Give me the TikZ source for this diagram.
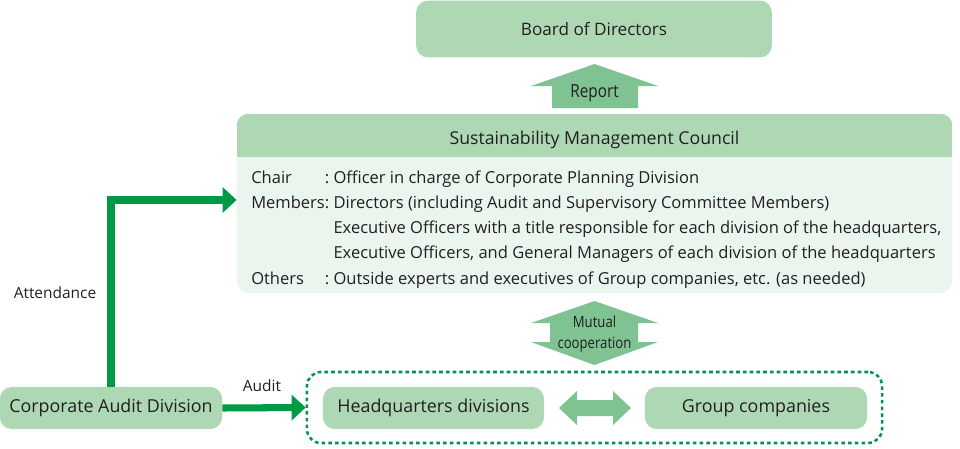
\documentclass[tikz,border=0pt]{standalone}
\usepackage{fontspec}
\setmainfont{Open Sans}
\newfontfamily\narrowfont{Open Sans}[FakeStretch=0.85]
\usepackage{xcolor}
\usetikzlibrary{arrows.meta, calc, positioning}

\definecolor{boxgreen}{RGB}{174,216,180}
\definecolor{arrowgreen}{RGB}{126,195,145}
\definecolor{palegreen}{RGB}{234,245,238}
\definecolor{linegreen}{RGB}{0,154,68}
\definecolor{dashgreen}{RGB}{0,148,80}
\definecolor{ink}{RGB}{35,31,32}

\newcommand\boxfont{\fontsize{12.6}{15}\selectfont}
\newcommand\bodyfont{\fontsize{11.75}{18}\selectfont}
\newcommand\labelfont{\fontsize{11}{15}\selectfont}

\begin{document}
\begin{tikzpicture}[x=0.025cm, y=-0.025cm,
    box/.style={rectangle, rounded corners=8.5pt, fill=boxgreen, text=ink, font=\boxfont, inner sep=0pt},
    flow/.style={draw=linegreen, line width=5pt, -{Triangle[length=10pt, width=17.8pt]}},
    blockarrow/.style={fill=arrowgreen},
    lbl/.style={text=ink, font=\labelfont, inner sep=0pt}]
    \useasboundingbox (0,0) rectangle (960,448);

    \node[box, minimum width=253pt, minimum height=40.5pt, font=\fontsize{12.2}{15}\selectfont] (board) at (594,29) {Board of Directors};
    \node[box, fill=palegreen, minimum width=508.6pt, minimum height=127.3pt] (council) at (594.5,203.5) {};
    \begin{scope}
        \clip[rounded corners=8.5pt] (council.south west) rectangle (council.north east);
        \fill[boxgreen] (council.north west) rectangle ($(council.north east)+(0,43)$);
    \end{scope}
    \node[lbl, font=\boxfont] (title) at (594.5,139.5) {Sustainability Management Council};
    \node[lbl, font=\bodyfont, anchor=north west] (members) at (251,165) {%
        \begin{tabular}{@{}l@{}l@{\ }l@{}}
            Chair & : & Officer in charge of Corporate Planning Division\\
            Members & : & Directors (including Audit and Supervisory Committee Members)\\
            & & Executive Officers with a title responsible for each division of the headquarters,\\
            & & Executive Officers, and General Managers of each division of the headquarters\\
            Others & : & Outside experts and executives of Group companies, etc. (as needed)
        \end{tabular}};

    \node[box, minimum width=158pt, minimum height=30pt, font=\fontsize{12.7}{15}\selectfont] (audit) at (111,408) {Corporate Audit Division};
    \node[box, minimum width=157.2pt, minimum height=30pt, font=\fontsize{12.7}{15}\selectfont] (hq) at (433.5,408) {Headquarters divisions};
    \node[box, minimum width=158pt, minimum height=30pt, font=\fontsize{12.7}{15}\selectfont] (grp) at (756,408) {Group companies};
    \node[rectangle, rounded corners=10pt, draw=dashgreen, line width=1.8pt, dash pattern=on 2.6pt off 2.2pt,
        minimum width=409pt, minimum height=50.5pt] (frame) at (594.5,407.5) {};

    % block arrows
    \fill[blockarrow] (552,108) -- (552,86) -- (531,86) -- (594.5,64) -- (658,86) -- (638,86) -- (638,108) -- cycle;
    \node[lbl, font=\narrowfont\fontsize{12.8}{15}\selectfont] (report) at (594.5,93) {Report};
    \fill[blockarrow] (550,323) -- (531,323) -- (594.5,301) -- (658,323) -- (638,323) -- (638,342)
        -- (658,342) -- (594.5,365) -- (531,342) -- (550,342) -- cycle;
    \node[lbl, align=center, font=\narrowfont\fontsize{11}{15}\selectfont] (mutual) at (594.5,334) {Mutual\\cooperation};
    \fill[blockarrow] (559,408) -- (577,391) -- (577,400) -- (613,400) -- (613,391) -- (631,408)
        -- (613,425) -- (613,416) -- (577,416) -- (577,425) -- cycle;

    \draw[flow] (audit.north) |- ([yshift=2.5pt]council.west);
    \draw[flow] (audit.east) -- (frame.west);
    \node[lbl] (attend) at (55,293) {Attendance};
    \node[lbl] (auditlbl) at (262,386) {Audit};
\end{tikzpicture}
\end{document}
